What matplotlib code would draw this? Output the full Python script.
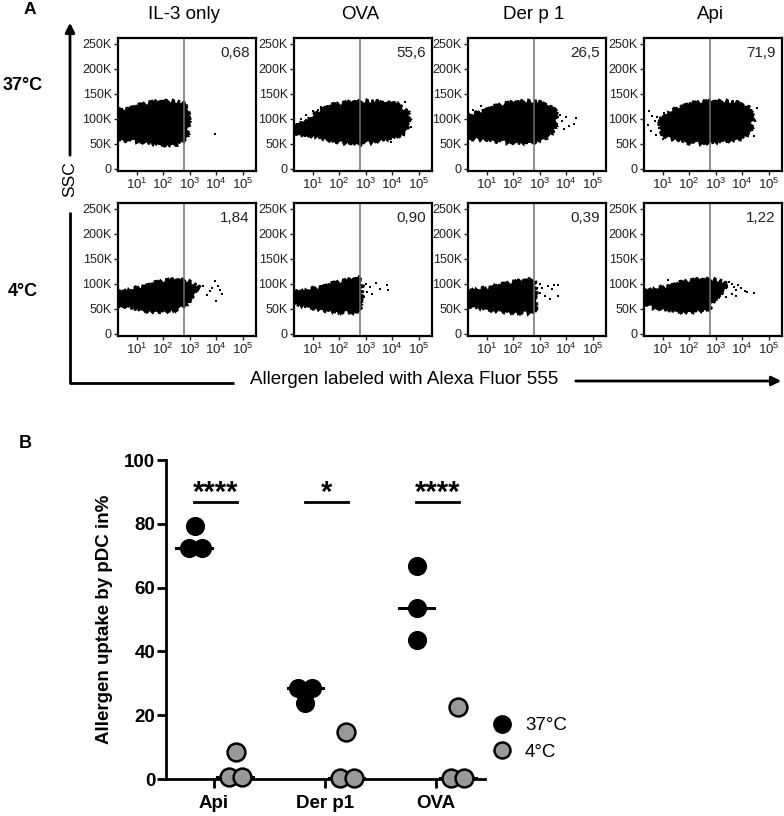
import numpy as np
import matplotlib
matplotlib.use("Agg")
import matplotlib.pyplot as plt
from matplotlib.lines import Line2D
from matplotlib.ticker import FixedLocator, LogLocator, NullFormatter

plt.rcParams['font.family'] = ['Liberation Sans', 'DejaVu Sans']
plt.rcParams['mathtext.fontset'] = 'custom'
plt.rcParams['mathtext.rm'] = 'Liberation Sans'
plt.rcParams['mathtext.it'] = 'Liberation Sans'

# ---------------- panel A data ----------------
allergens = ["IL-3 only", "OVA", "Der p 1", "Api"]
temps = ["37°C", "4°C"]
gate_pct = [["0,68", "55,6", "26,5", "71,9"],
            ["1,84", "0,90", "0,39", "1,22"]]
gate_log = 2.78          # gate position, log10 fluorescence
ssc_ticks = [0, 50, 100, 150, 200, 250]   # K
fl_decades = [1, 2, 3, 4, 5]

# outline of the dense population: (log10 fluorescence, SSC in K)
cloud_il3_37 = [(0.3, 59), (0.3, 116), (0.7, 120), (1.1, 126), (1.6, 132), (2.1, 134),
                (2.6, 133), (2.85, 128), (2.95, 112), (2.95, 82), (2.85, 60), (2.5, 50),
                (2.0, 49), (1.5, 52), (1.0, 56), (0.6, 58)]
cloud_ova_37 = [(0.3, 72), (0.3, 84), (0.7, 92), (1.0, 104), (1.3, 118), (1.8, 127),
                (2.4, 132), (3.0, 134), (3.7, 133), (4.2, 128), (4.55, 115), (4.65, 95),
                (4.45, 72), (4.0, 62), (3.3, 55), (2.7, 50), (2.2, 53), (1.7, 58),
                (1.3, 64), (0.9, 68), (0.5, 70)]
cloud_der_37 = [(0.3, 62), (0.3, 105), (0.7, 112), (1.2, 122), (1.7, 129), (2.2, 133),
                (2.8, 134), (3.2, 130), (3.55, 118), (3.65, 98), (3.5, 75), (3.2, 62),
                (2.8, 55), (2.3, 52), (1.8, 54), (1.3, 57), (0.8, 60)]
cloud_api_37 = [(0.9, 72), (0.9, 98), (1.2, 110), (1.6, 122), (2.0, 129), (2.6, 133),
                (3.3, 134), (3.9, 131), (4.25, 122), (4.4, 100), (4.3, 75), (4.0, 62),
                (3.3, 56), (2.6, 52), (2.0, 53), (1.6, 58), (1.2, 64)]
cloud_il3_4 = [(0.3, 58), (0.3, 82), (0.8, 88), (1.3, 95), (1.8, 102), (2.3, 107),
               (2.8, 106), (3.1, 101), (3.35, 92), (3.2, 82), (2.9, 62), (2.6, 50),
               (2.1, 46), (1.5, 46), (1.0, 50), (0.6, 55)]
cloud_ova_4 = [(0.3, 60), (0.3, 82), (0.8, 87), (1.3, 93), (1.8, 100), (2.3, 106),
               (2.75, 110), (2.85, 100), (2.85, 55), (2.6, 44), (2.1, 44), (1.6, 47),
               (1.1, 52), (0.6, 57)]
cloud_der_4 = [(0.3, 56), (0.3, 86), (0.8, 89), (1.3, 94), (1.8, 100), (2.3, 105),
               (2.75, 108), (2.85, 95), (2.85, 50), (2.6, 43), (2.0, 44), (1.4, 47),
               (0.8, 52)]
cloud_api_4 = [(0.3, 58), (0.3, 85), (0.8, 90), (1.3, 96), (1.8, 103), (2.3, 107),
               (2.8, 108), (3.2, 105), (3.45, 97), (3.3, 86), (2.95, 70), (2.8, 52),
               (2.3, 46), (1.8, 45), (1.3, 47), (0.8, 52)]

# sparse events outside the dense population
speck_il3_37 = [(3.97, 69), (3.0, 100), (2.98, 92)]
speck_ova_37 = [(0.75, 107), (0.55, 100), (0.42, 70), (0.8, 77), (1.32, 123), (1.2, 117),
                (4.5, 133), (4.71, 83), (3.96, 53), (0.6, 90), (1.0, 115)]
speck_der_37 = [(4.38, 101), (4.3, 89), (4.1, 85), (3.85, 95), (3.9, 80), (3.75, 108),
                (4.0, 104), (0.5, 118), (0.8, 125), (1.0, 55)]
speck_api_37 = [(0.45, 87), (0.5, 115), (0.55, 75), (0.7, 96), (0.75, 68), (0.8, 104),
                (0.85, 82), (0.6, 105), (1.0, 60), (1.05, 112), (4.56, 121), (4.45, 66),
                (4.5, 95)]
speck_il3_4 = [(3.96, 105), (4.15, 88), (4.0, 65), (3.65, 78), (3.75, 85), (4.05, 95),
               (4.2, 80), (3.5, 96), (3.85, 92)]
speck_ova_4 = [(3.0, 100), (3.15, 94), (3.4, 102), (3.55, 90), (3.8, 98), (3.85, 87),
               (3.05, 84), (2.95, 74), (3.25, 80)]
speck_der_4 = [(3.0, 100), (3.1, 92), (3.3, 96), (3.45, 90), (3.55, 97), (3.69, 98),
               (3.69, 75), (3.2, 76), (3.0, 82), (3.4, 70)]
speck_api_4 = [(3.6, 100), (3.7, 93), (3.75, 88), (3.85, 97), (3.97, 92), (3.6, 80),
               (3.75, 76), (4.2, 84), (4.43, 82), (4.1, 86), (3.4, 74), (1.2, 108),
               (3.5, 104)]

clouds = [[cloud_il3_37, cloud_ova_37, cloud_der_37, cloud_api_37],
          [cloud_il3_4, cloud_ova_4, cloud_der_4, cloud_api_4]]
specks = [[speck_il3_37, speck_ova_37, speck_der_37, speck_api_37],
          [speck_il3_4, speck_ova_4, speck_der_4, speck_api_4]]

# ---------------- panel B data ----------------
categories = ["Api", "Der p1", "OVA"]
uptake_37 = [[79.3, 72.5, 72.5], [28.6, 28.6, 23.7], [66.8, 53.7, 43.6]]
uptake_4 = [[8.4, 0.5, 0.5], [14.6, 0.2, 0.2], [22.5, 0.2, 0.2]]
stars = ["****", "*", "****"]
sig_y = 86.7

# layout (pixels of the 784x816 figure)
W, H = 784, 816
col_left = [118, 294, 468, 644]
row_top = [38, 203]
box_w, box_h = 138, 133

# horizontal spreading of overlapping dots (layout only)
off_37, off_4 = -0.175, 0.195
jit_37 = [[0.01, -0.05, 0.07], [-0.065, 0.06, -0.005], [0, 0, 0]]
jit_4 = [[0.005, -0.06, 0.065], [0, -0.06, 0.065], [0, -0.065, 0.055]]

fig = plt.figure(figsize=(W / 100, H / 100), dpi=100)


def px_axes(left, top, width, height):
    return fig.add_axes([left / W, 1 - (top + height) / H, width / W, height / H])


def draw_flow(ax, cloud, speck, pct):
    cx = [10 ** p[0] for p in cloud]
    cy = [p[1] * 1000 for p in cloud]
    poly = ax.fill(cx, cy, facecolor='black', edgecolor='black', lw=1.6)[0]
    poly.set_sketch_params(2.2, 2.5, 5)   # ragged edge of the event cloud
    sx = [10 ** p[0] for p in speck]
    sy = [p[1] * 1000 for p in speck]
    ax.scatter(sx, sy, s=3.5, marker='s', color='black', linewidths=0)
    ax.axvline(10 ** gate_log, color='#707070', lw=1.1)
    ax.text(0.955, 0.94, pct, transform=ax.transAxes, ha='right', va='top',
            fontsize=11, color='#222222')
    ax.set_xscale('log')
    ax.set_xlim(10 ** 0.3, 10 ** 5.5)
    ax.set_ylim(-4000, 261000)
    ax.set_yticks([v * 1000 for v in ssc_ticks])
    ax.set_yticklabels(["0" if v == 0 else f"{v}K" for v in ssc_ticks])
    ax.xaxis.set_major_locator(FixedLocator([10.0 ** d for d in fl_decades]))
    ax.xaxis.set_minor_locator(LogLocator(base=10, subs=np.arange(2, 10)))
    ax.xaxis.set_minor_formatter(NullFormatter())
    ax.set_xticklabels([f"$10^{{{d}}}$" for d in fl_decades])
    ax.tick_params(axis='both', which='major', direction='out', length=3, width=1,
                   labelsize=9, pad=1.5, colors='#222222')
    ax.tick_params(axis='x', which='major', labelsize=9.5)
    ax.tick_params(axis='x', which='minor', direction='out', length=1.8, width=0.7)
    for sp in ax.spines.values():
        sp.set_linewidth(1.6)


for r in range(2):
    for c in range(4):
        ax = px_axes(col_left[c], row_top[r], box_w, box_h)
        draw_flow(ax, clouds[r][c], specks[r][c], gate_pct[r][c])

# decorations of panel A drawn in figure pixels
deco = fig.add_axes([0, 0, 1, 1])
deco.set_xlim(0, W)
deco.set_ylim(H, 0)
deco.axis('off')
deco.patch.set_visible(False)

for c in range(4):
    deco.text(col_left[c] + box_w / 2 - 3, 19, allergens[c], ha='center',
              va='baseline', fontsize=13.5)
deco.text(23, 86, temps[0], ha='center', va='center', fontsize=13, fontweight='bold')
deco.text(23, 291, temps[1], ha='center', va='center', fontsize=13, fontweight='bold')
deco.text(30, 9, "A", ha='center', va='center', fontsize=12.5, fontweight='bold')
deco.text(25, 444, "B", ha='center', va='center', fontsize=13, fontweight='bold')

deco.annotate("", xy=(70, 20), xytext=(70, 158),
              arrowprops=dict(arrowstyle='-|>', lw=2, color='black', mutation_scale=14))
deco.text(70, 179, "SSC", rotation=90, ha='center', va='center', fontsize=12.5)
deco.plot([70, 70, 234], [212, 383, 383], color='black', lw=2, solid_capstyle='butt')
deco.text(404, 379, "Allergen labeled with Alexa Fluor 555", ha='center', va='center',
          fontsize=13.5)
deco.annotate("", xy=(784, 381), xytext=(573, 381),
              arrowprops=dict(arrowstyle='-|>', lw=2, color='black', mutation_scale=14))

# ---------------- panel B ----------------
axb = px_axes(165.7, 460, 319.3, 319)
for i in range(len(categories)):
    x37 = i + off_37 + np.array(jit_37[i])
    x4 = i + off_4 + np.array(jit_4[i])
    axb.plot([i + off_37 - 0.16, i + off_37 + 0.16], [np.median(uptake_37[i])] * 2,
             color='black', lw=2.2, zorder=2, clip_on=False)
    axb.plot([i + off_4 - 0.16, i + off_4 + 0.16], [np.median(uptake_4[i])] * 2,
             color='black', lw=2.2, zorder=2, clip_on=False)
    axb.scatter(x37, uptake_37[i], s=190, color='black', linewidths=0, zorder=3,
                clip_on=False)
    axb.scatter(x4, uptake_4[i], s=165, color='#999999', edgecolors='black',
                linewidths=1.8, zorder=3, clip_on=False)
    axb.plot([i - 0.18, i + 0.21], [sig_y] * 2, color='black', lw=2, clip_on=False)
    axb.text(i + 0.015, sig_y + 0.5, stars[i], ha='center', va='baseline',
             fontsize=21, fontweight='bold')

axb.set_xlim(-0.43, 2.44)
axb.set_ylim(0, 100)
axb.set_xticks(range(len(categories)))
axb.set_xticklabels(categories)
axb.set_yticks([0, 20, 40, 60, 80, 100])
axb.spines['top'].set_visible(False)
axb.spines['right'].set_visible(False)
for sp in ['left', 'bottom']:
    axb.spines[sp].set_linewidth(2)
axb.tick_params(axis='both', direction='out', length=6.5, width=2, labelsize=13.5)
axb.tick_params(axis='y', pad=1)
axb.tick_params(axis='x', pad=5)
for lab in axb.get_xticklabels() + axb.get_yticklabels():
    lab.set_fontweight('bold')
axb.set_ylabel("Allergen uptake by pDC in%", fontsize=13.5, fontweight='bold')
axb.yaxis.set_label_coords(-0.164, 0.5)

handles = [Line2D([], [], marker='o', ls='', mfc='black', mec='black', ms=12.5),
           Line2D([], [], marker='o', ls='', mfc='#999999', mec='black', mew=1.8, ms=11.5)]
fig.legend(handles, temps, loc='center left', bbox_to_anchor=(492.3 / W, 1 - 739 / H),
           frameon=False, fontsize=13.5, handlelength=1.0, handletextpad=0.75,
           labelspacing=0.5, borderpad=0, borderaxespad=0)

fig.savefig("out.png", dpi=100)
